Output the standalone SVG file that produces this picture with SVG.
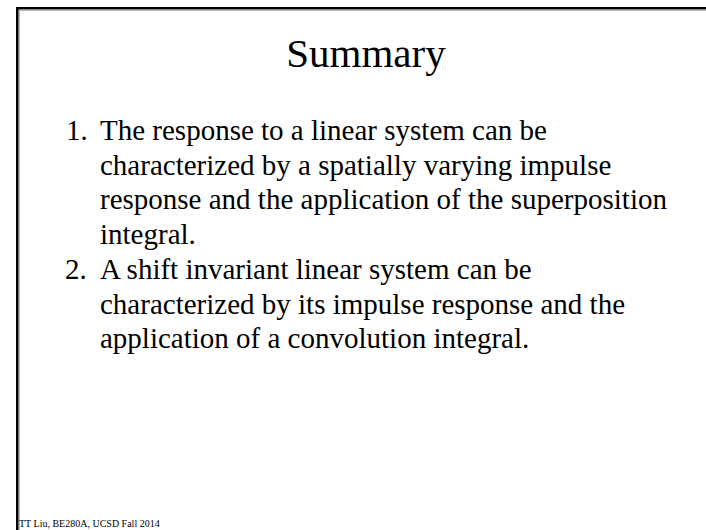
<svg xmlns="http://www.w3.org/2000/svg" width="706" height="530" viewBox="0 0 706 530">
  <style>
    .serif { font-family: "Liberation Serif", "Times New Roman", serif; fill: #000; }
    .title { font-size: 41px; }
    .body { font-size: 29px; }
    .foot { font-size: 10px; }
  </style>
  <rect x="0" y="0" width="706" height="530" fill="#fff"/>
  <!-- slide frame: runs off the right and bottom edges -->
  <g id="frame">
    <path d="M17.3 540 V8.3 H720" fill="none" stroke="#000" stroke-width="2.6"/>
    <path d="M19.2 540 V10.2 H720" fill="none" stroke="#999" stroke-width="1"/>
  </g>
  <g id="title">
    <text class="serif title" x="366" y="67" text-anchor="middle">Summary</text>
  </g>
  <g id="item1">
    <text class="serif body" x="66" y="140">1.</text>
    <text class="serif body" x="100" y="140">The response to a linear system can be</text>
    <text class="serif body" x="100" y="174.7">characterized by a spatially varying impulse</text>
    <text class="serif body" x="100" y="209.4">response and the application of the superposition</text>
    <text class="serif body" x="100" y="244">integral.</text>
  </g>
  <g id="item2">
    <text class="serif body" x="65" y="278.8">2.</text>
    <text class="serif body" x="100" y="278.8">A shift invariant linear system can be</text>
    <text class="serif body" x="100" y="313.5">characterized by its impulse response and the</text>
    <text class="serif body" x="100" y="348.2">application of a convolution integral.</text>
  </g>
  <g id="footer">
    <text class="serif foot" x="19" y="527">TT Liu, BE280A, UCSD Fall 2014</text>
  </g>
</svg>
